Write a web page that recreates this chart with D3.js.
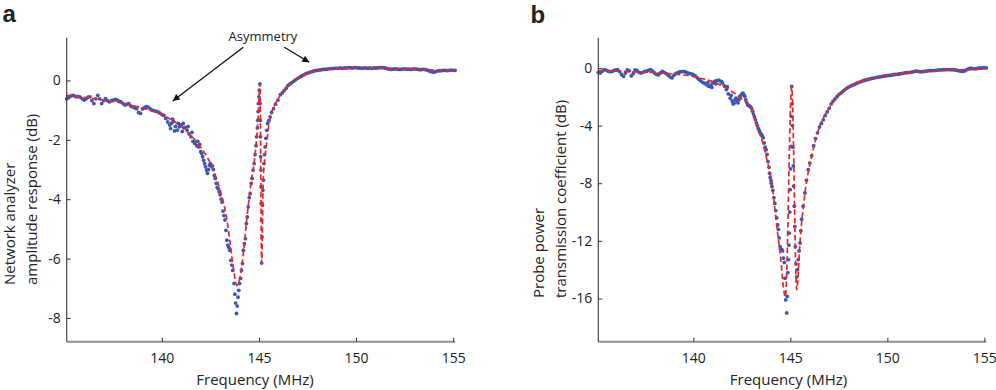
<!DOCTYPE html>
<html><head><meta charset="utf-8">
<script src="https://cdn.jsdelivr.net/npm/d3@7"></script>
<style>body{margin:0;background:#fff} svg{display:block} text{font-family:"Open Sans",sans-serif;fill:#222}</style>
</head><body><svg id="c" width="996" height="390"></svg>
<script>
// ---------- shared ticks ----------
const xTicks = [140, 145, 150, 155];
const aYTicks = [0, -2, -4, -6, -8];
const bYTicks = [0, -4, -8, -12, -16];

// ---------- Panel a data ----------
// measured points, uniform grid 135.1 .. 142.0 (step 0.1)
const aLeftStart = 135.1, aLeftStep = 0.1;
const aLeftVals = [-0.62,-0.58,-0.53,-0.50,-0.52,-0.55,-0.54,-0.56,-0.62,-0.66,
  -0.62,-0.56,-0.55,-0.68,-0.78,-0.62,-0.50,-0.62,-0.78,-0.68,
  -0.61,-0.68,-0.72,-0.68,-0.66,-0.64,-0.66,-0.70,-0.72,-0.78,
  -0.83,-0.80,-0.78,-0.86,-0.89,-0.92,-0.95,-1.08,-1.11,-0.96,
  -0.92,-0.88,-0.90,-0.96,-1.00,-1.02,-1.04,-1.06,-1.10,-1.15,
  -1.18,-1.28,-1.40,-1.50,-1.44,-1.38,-1.55,-1.67,-1.56,-1.50,
  -1.45,-1.58,-1.67,-1.80,-1.90,-2.05,-2.12,-2.20,-2.24,-2.40];
// measured points, explicit frequencies around the resonance (and noisy scatter)
const aDipFreq = [140.45,140.55,140.65,140.85,141.05,141.15,141.35,141.55,141.85,141.95,
  142.05,142.1,142.15,142.2,142.25,142.3,142.35,142.4,142.45,142.5,142.55,142.6,142.65,142.7,142.75,
  142.8,142.85,142.9,142.95,143.0,143.05,143.1,143.15,143.2,143.25,143.3,143.35,143.4,143.45,143.5,
  143.55,143.6,143.65,143.72,143.76,143.8,143.84,143.88,143.92,143.96,144.0,144.05,144.1,144.15,144.2,
  144.25,144.3,144.35,144.4,144.45,144.5,144.55,144.6,144.65,144.7,144.75,144.8,144.85,144.88,144.92,
  144.94,144.96,144.97,145.0,145.02,145.05,145.06,145.07,145.08,145.09,145.1,145.11,145.12,145.13,145.14,
  145.16,145.18,145.2,145.23,145.26,145.29,145.32,145.36,145.4,145.45,145.5,145.57,145.65,145.75,145.85,145.98];
const aDipVals = [-1.62,-1.30,-1.70,-1.45,-1.72,-1.60,-1.55,-1.75,-2.05,-2.15,
  -2.46,-2.57,-2.69,-2.80,-2.91,-3.02,-3.13,-3.00,-2.85,-2.80,-2.90,-2.88,-3.00,-3.20,-3.30,
  -3.47,-3.60,-3.65,-3.75,-3.85,-4.00,-4.10,-4.40,-4.55,-4.70,-5.05,-5.38,-5.55,-5.62,-5.72,
  -6.06,-6.22,-6.40,-6.84,-7.20,-7.50,-7.85,-7.60,-7.30,-7.07,-6.84,-6.67,-6.40,-6.17,-5.72,
  -5.50,-5.33,-4.82,-4.60,-4.26,-3.95,-3.81,-3.47,-3.30,-3.02,-2.80,-2.50,-2.20,-1.90,-1.60,
  -1.34,-1.05,-0.78,-0.55,-0.33,-0.12,-0.78,-1.34,-1.90,-2.57,-3.02,-3.58,-4.14,-4.70,-6.15,
  -5.27,-4.20,-3.70,-3.36,-2.80,-2.50,-2.24,-1.95,-1.68,-1.45,-1.35,-1.23,-1.08,-0.95,-0.80,-0.66];
// measured points, uniform grid 146.1 .. 155.1 (step 0.1)
const aRightStart = 146.1, aRightStep = 0.1;
const aRightVals = [-0.48,-0.42,-0.34,-0.26,-0.17,-0.12,-0.07,-0.02,0.03,0.07,
  0.11,0.15,0.19,0.22,0.25,0.27,0.29,0.31,0.33,0.34,
  0.35,0.36,0.37,0.37,0.38,0.39,0.40,0.40,0.41,0.41,
  0.41,0.42,0.41,0.42,0.42,0.43,0.43,0.42,0.43,0.43,
  0.42,0.42,0.41,0.42,0.42,0.41,0.42,0.41,0.42,0.42,
  0.42,0.43,0.43,0.43,0.42,0.40,0.38,0.37,0.38,0.39,
  0.38,0.37,0.37,0.38,0.39,0.38,0.38,0.37,0.38,0.39,
  0.38,0.37,0.36,0.37,0.37,0.36,0.34,0.31,0.29,0.28,
  0.30,0.32,0.33,0.33,0.34,0.34,0.33,0.34,0.35,0.34,0.34];
// fit curve (red dashed)
const aFitFreq = [135.1,136,137,138,139,139.5,140,140.5,141,141.5,142,142.5,143,143.3,143.5,143.7,143.85,
  144.0,144.2,144.4,144.6,144.8,144.95,145.05,145.14,145.22,145.31,145.4,145.5,145.6,145.8,146.0,146.3,
  146.6,147.0,147.5,148,149,150,151,152,153,154,155.1];
const aFitVals = [-0.5,-0.57,-0.66,-0.77,-0.93,-1.02,-1.15,-1.33,-1.55,-1.85,-2.25,-2.8,-3.7,-4.5,-5.4,-6.4,-6.9,
  -6.7,-5.8,-4.5,-3.4,-2.5,-1.3,-0.12,-6.15,-3.36,-2.6,-2.1,-1.55,-1.2,-0.85,-0.6,-0.32,
  -0.1,0.08,0.24,0.33,0.39,0.42,0.42,0.40,0.38,0.35,0.33];

// ---------- Panel b data ----------
const bLeftStart = 135.1, bLeftStep = 0.1;
const bLeftVals = [-0.30,-0.35,-0.22,-0.12,-0.15,-0.22,-0.26,-0.24,-0.18,-0.14,
  -0.12,-0.25,-0.45,-0.58,-0.35,-0.14,-0.20,-0.55,-0.40,-0.14,
  -0.18,-0.30,-0.35,-0.30,-0.24,-0.22,-0.15,-0.12,-0.22,-0.35,
  -0.45,-0.47,-0.35,-0.24,-0.30,-0.40,-0.50,-0.62,-0.69,-0.50,
  -0.38,-0.32,-0.28,-0.25,-0.24,-0.28,-0.35,-0.38,-0.42,-0.47,
  -0.55,-0.68,-0.81,-0.92,-1.02,-1.08,-1.18,-1.28,-1.20,-1.05,
  -0.93,-0.88,-0.85,-0.92,-1.05,-1.25,-1.50,-1.80,-2.10,-2.30];
const bDipFreq = [140.75,140.95,141.15,141.45,141.75,141.95,
  142.05,142.1,142.15,142.2,142.25,142.3,142.35,142.4,142.45,142.5,142.55,142.6,142.65,142.7,142.75,
  142.8,142.85,142.9,142.95,143.0,143.05,143.1,143.15,143.2,143.25,143.3,143.35,143.4,143.45,143.5,
  143.55,143.6,143.65,143.7,143.75,143.8,143.85,143.9,143.93,143.96,144.0,144.02,144.05,144.1,144.15,
  144.2,144.25,144.3,144.35,144.38,144.42,144.47,144.5,144.55,144.6,144.64,144.69,144.72,144.76,144.81,
  144.84,144.87,144.9,144.93,144.95,144.97,144.99,145.01,145.03,145.05,145.07,
  145.09,145.11,145.13,145.15,145.17,145.2,145.23,145.26,145.29,145.33,
  145.37,145.41,145.45,145.5,145.54,145.58,145.66,145.75,145.83,145.92,146.0];
const bDipVals = [-1.00,-1.35,-1.10,-0.95,-1.30,-1.90,
  -2.50,-2.45,-2.20,-2.10,-2.30,-2.43,-2.20,-2.00,-1.90,-1.80,-1.74,-1.85,-1.97,-2.20,-2.40,
  -2.55,-2.60,-2.65,-2.70,-2.80,-3.00,-3.20,-3.40,-3.60,-3.82,-4.00,-4.20,-4.35,-4.50,-4.62,
  -4.72,-4.85,-5.20,-5.50,-5.67,-6.00,-6.50,-6.90,-7.30,-7.60,-7.80,-8.00,-8.22,-8.50,-9.00,
  -9.40,-9.90,-10.40,-10.90,-11.20,-11.80,-12.40,-12.60,-12.60,-12.70,-13.20,-13.50,-14.60,-16.10,-17.00,
  -15.86,-14.20,-13.30,-12.30,-11.46,-10.00,-8.45,-7.00,-5.44,-3.36,-1.28,
  -2.50,-4.00,-5.50,-6.80,-8.20,-9.60,-11.00,-12.40,-13.60,-14.50,
  -14.00,-13.30,-12.70,-12.15,-11.30,-10.50,-9.60,-8.68,-7.80,-7.06,-6.60];
const bRightStart = 146.1, bRightStep = 0.1;
const bRightVals = [-6.10,-5.40,-4.90,-4.50,-4.10,-3.85,-3.60,-3.30,-3.05,-2.80,
  -2.50,-2.30,-2.15,-2.00,-1.85,-1.75,-1.62,-1.52,-1.42,-1.33,
  -1.26,-1.20,-1.14,-1.08,-1.02,-0.97,-0.92,-0.87,-0.83,-0.80,
  -0.76,-0.73,-0.70,-0.67,-0.64,-0.62,-0.60,-0.57,-0.55,-0.53,
  -0.52,-0.50,-0.47,-0.45,-0.44,-0.42,-0.40,-0.37,-0.34,-0.33,
  -0.32,-0.30,-0.27,-0.24,-0.22,-0.24,-0.27,-0.26,-0.24,-0.22,
  -0.20,-0.19,-0.18,-0.18,-0.17,-0.15,-0.14,-0.13,-0.12,-0.12,
  -0.11,-0.11,-0.12,-0.12,-0.14,-0.17,-0.20,-0.22,-0.23,-0.20,
  -0.12,-0.05,-0.02,-0.04,-0.06,-0.05,-0.02,-0.01,0.00,0.02,0.00];
const bFitFreq = [135.1,136,137,138,139,140,140.5,141,141.5,142,142.5,143,143.1,143.35,143.6,143.78,143.95,
  144.1,144.3,144.5,144.64,144.74,145.07,145.33,145.5,145.75,146.1,146.5,147,147.5,148,149,150,151,152,153,154,155.1];
const bFitVals = [-0.18,-0.22,-0.27,-0.33,-0.42,-0.6,-0.75,-0.95,-1.25,-1.65,-2.15,-2.85,-3.3,-4.3,-5.3,-6.3,-7.3,
  -8.6,-11.0,-13.2,-15.2,-15.9,-1.3,-15.4,-12.0,-8.7,-6.1,-4.1,-2.8,-1.9,-1.35,-0.8,-0.55,-0.35,-0.24,-0.15,-0.12,-0.05];

// ---------- drawing ----------
const svg = d3.select("#c");
const dotColor = "#3b57b3", fitColor = "#e8262b";

function build(start, step, vals) { return vals.map((v, i) => ({f: start + i * step, v})); }
function pairs(fs, vs) { return fs.map((f, i) => ({f, v: vs[i]})); }

function panel(cfg) {
  const x = d3.scaleLinear().domain([135.1, 155.1]).range(cfg.xr);
  const y = d3.scaleLinear().domain(cfg.yd).range([341.7, 37.7]);
  const g = svg.append("g");
  g.append("g").selectAll("circle").data(cfg.points).join("circle")
    .attr("cx", d => x(d.f)).attr("cy", d => y(d.v)).attr("r", 1.9).attr("fill", dotColor);
  g.append("path").datum(cfg.fit)
    .attr("d", d3.line().x(d => x(d.f)).y(d => y(d.v)).curve(d3.curveMonotoneX))
    .attr("fill", "none").attr("stroke", fitColor).attr("stroke-width", 1.7)
    .attr("stroke-dasharray", "5.5,3");
  const xa = g.append("g").attr("transform", "translate(0,341.7)")
    .call(d3.axisBottom(x).tickValues(xTicks).tickSize(-4).tickPadding(0).tickFormat(d3.format("d")));
  xa.select(".domain").attr("stroke", "#8f8f8f").attr("stroke-width", 2).attr("d", `M${cfg.xr[0]},0H${cfg.xr[1]}`);
  xa.selectAll(".tick line").attr("stroke", "#333");
  xa.selectAll(".tick text").attr("y", 21.5).attr("dy", 0).style("font-size", "14px").attr("fill", "#222")
    .style("font-family", '"Open Sans",sans-serif');
  const ya = g.append("g").attr("transform", `translate(${cfg.xr[0]},0)`)
    .call(d3.axisLeft(y).tickValues(cfg.yt).tickSize(-4).tickPadding(6).tickFormat(d => String(d)));
  ya.select(".domain").attr("stroke", "#444").attr("stroke-width", 1.2).attr("d", "M0,37.7V341.7");
  ya.selectAll(".tick line").attr("stroke", "#333");
  ya.selectAll(".tick text").style("font-size", "14px").attr("fill", "#222")
    .style("font-family", '"Open Sans",sans-serif');
  g.append("text").attr("x", cfg.xtx).attr("y", 384.5).attr("text-anchor", "middle")
    .style("font-size", "15px").text("Frequency (MHz)");
  cfg.ytitle.forEach((t, i) => {
    g.append("text").attr("transform", `translate(${cfg.ytx[i]},${cfg.yty}) rotate(-90)`)
      .attr("text-anchor", "start").style("font-size", "15px").text(t);
  });
  g.append("text").attr("x", cfg.lx).attr("y", cfg.ly)
    .style("font-family", '"Liberation Sans",Arial,sans-serif').style("font-weight", "bold")
    .style("font-size", "24px").attr("fill", "#111").text(cfg.label);
  return {x, y};
}

const pa = [...build(aLeftStart, aLeftStep, aLeftVals), ...pairs(aDipFreq, aDipVals), ...build(aRightStart, aRightStep, aRightVals)];
const pb = [...build(bLeftStart, bLeftStep, bLeftVals), ...pairs(bDipFreq, bDipVals), ...build(bRightStart, bRightStep, bRightVals)];

panel({xr: [66.7, 455.1], yd: [-8.8, 1.44], yt: aYTicks, points: pa, fit: pairs(aFitFreq, aFitVals),
  xtx: 255, ytitle: ["Network analyzer", "amplitude response (dB)"], ytx: [15, 36.5], yty: 285,
  label: "a", lx: 2.5, ly: 21.7});
panel({xr: [598.3, 986.3], yd: [-19, 2.1], yt: bYTicks, points: pb, fit: pairs(bFitFreq, bFitVals),
  xtx: 788.5, ytitle: ["Probe power", "transmission coefficient (dB)"], ytx: [544, 566], yty: 298,
  label: "b", lx: 530.5, ly: 22.5});

// annotation
svg.append("defs").append("marker").attr("id", "ah").attr("viewBox", "0 0 10 10")
  .attr("refX", 10).attr("refY", 5).attr("markerWidth", 9).attr("markerHeight", 7)
  .attr("markerUnits", "userSpaceOnUse").attr("orient", "auto")
  .append("path").attr("d", "M0,0L10,5L0,10Z").attr("fill", "#111");
svg.append("text").attr("x", 263).attr("y", 40.5).attr("text-anchor", "middle")
  .style("font-size", "13px").text("Asymmetry");
svg.append("line").attr("x1", 243.3).attr("y1", 47.3).attr("x2", 172.7).attr("y2", 101)
  .attr("stroke", "#111").attr("stroke-width", 1.3).attr("marker-end", "url(#ah)");
svg.append("line").attr("x1", 284.3).attr("y1", 47.3).attr("x2", 309.3).attr("y2", 62.3)
  .attr("stroke", "#111").attr("stroke-width", 1.3).attr("marker-end", "url(#ah)");
</script></body></html>
